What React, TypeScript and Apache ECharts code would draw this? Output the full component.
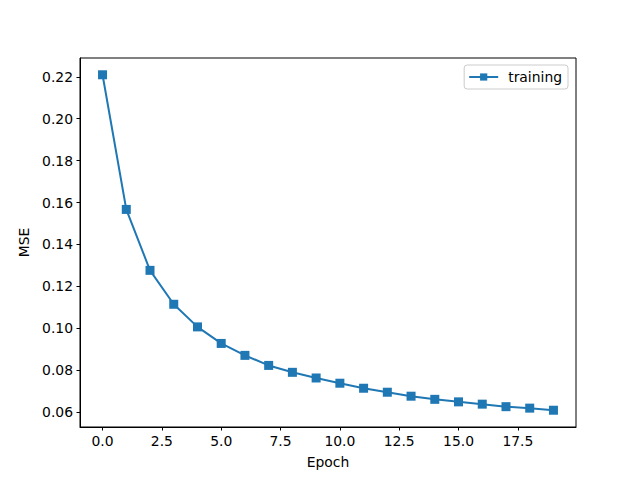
import React, { useEffect, useRef } from "react";
import * as echarts from "echarts";

const epochs: number[] = [0, 1, 2, 3, 4, 5, 6, 7, 8, 9, 10, 11, 12, 13, 14, 15, 16, 17, 18, 19];
const mse: number[] = [
  0.221, 0.1567, 0.1276, 0.1114, 0.1006, 0.0927, 0.087, 0.0822, 0.0789, 0.0762,
  0.0737, 0.0713, 0.0694, 0.0675, 0.066, 0.0648, 0.0637, 0.0625, 0.0618, 0.0608,
];
const xTicks: number[] = [0, 2.5, 5, 7.5, 10, 12.5, 15, 17.5];
const yTicks: number[] = [0.06, 0.08, 0.1, 0.12, 0.14, 0.16, 0.18, 0.2, 0.22];
const seriesName = "training";
const xName = "Epoch";
const yName = "MSE";

const FONT = "DejaVu Sans";

export default function App() {
  const ref = useRef<HTMLDivElement>(null);
  useEffect(() => {
    if (!ref.current) return;
    const chart = echarts.init(ref.current, undefined, { renderer: "svg" });
    const xmin = Math.min(...epochs);
    const xmax = Math.max(...epochs);
    const ymin = Math.min(...mse);
    const ymax = Math.max(...mse);
    const xm = (xmax - xmin) * 0.05;
    const ym = (ymax - ymin) * 0.05;
    chart.setOption({
      animation: false,
      backgroundColor: "#ffffff",
      grid: {
        left: 80,
        right: 64,
        top: 58,
        bottom: 53,
        show: true,
        borderColor: "#000",
        borderWidth: 1,
        backgroundColor: "transparent",
        containLabel: false,
      },
      legend: {
        right: 72,
        top: 65,
        orient: "vertical",
        backgroundColor: "rgba(255,255,255,0.8)",
        borderColor: "#cccccc",
        borderWidth: 1,
        borderRadius: 3,
        padding: [5, 6, 5, 4],
        itemWidth: 29,
        itemHeight: 9,
        itemGap: 6,
        textStyle: { fontFamily: FONT, fontSize: 13.9, color: "#000", padding: [0, 0, 0, 5] },
        data: [seriesName],
      },
      xAxis: {
        type: "value",
        min: xmin - xm,
        max: xmax + xm,
        name: xName,
        nameLocation: "middle",
        nameGap: 28,
        nameTextStyle: { fontFamily: FONT, fontSize: 13.9, color: "#000" },
        splitLine: { show: false },
        axisLine: { show: true, onZero: false, lineStyle: { color: "#000", width: 1 } },
        axisTick: {
          show: true,
          inside: false,
          length: 3.5,
          customValues: xTicks,
          lineStyle: { color: "#000", width: 1 },
        },
        axisLabel: {
          show: true,
          margin: 7,
          customValues: xTicks,
          formatter: (v: number) => v.toFixed(1),
          fontFamily: FONT,
          fontSize: 13.9,
          color: "#000",
        },
      },
      yAxis: {
        type: "value",
        min: ymin - ym,
        max: ymax + ym,
        name: yName,
        nameLocation: "middle",
        nameGap: 48,
        nameRotate: 90,
        nameTextStyle: { fontFamily: FONT, fontSize: 13.9, color: "#000" },
        splitLine: { show: false },
        axisLine: { show: true, onZero: false, lineStyle: { color: "#000", width: 1 } },
        axisTick: {
          show: true,
          inside: false,
          length: 3.5,
          customValues: yTicks,
          lineStyle: { color: "#000", width: 1 },
        },
        axisLabel: {
          show: true,
          margin: 7,
          customValues: yTicks,
          formatter: (v: number) => v.toFixed(2),
          fontFamily: FONT,
          fontSize: 13.9,
          color: "#000",
        },
      },
      series: [
        {
          name: seriesName,
          type: "line",
          data: epochs.map((e, i) => [e, mse[i]]),
          symbol: "rect",
          symbolSize: 9,
          showAllSymbol: true,
          itemStyle: { color: "#1f77b4", borderColor: "#1f77b4", borderWidth: 0 },
          lineStyle: { color: "#1f77b4", width: 2 },
          emphasis: { disabled: true },
        },
      ],
    });
    return () => chart.dispose();
  }, []);
  return (
    <div
      ref={ref}
      style={{ position: "fixed", left: 0, top: 0, width: 640, height: 480, background: "#fff" }}
    />
  );
}
